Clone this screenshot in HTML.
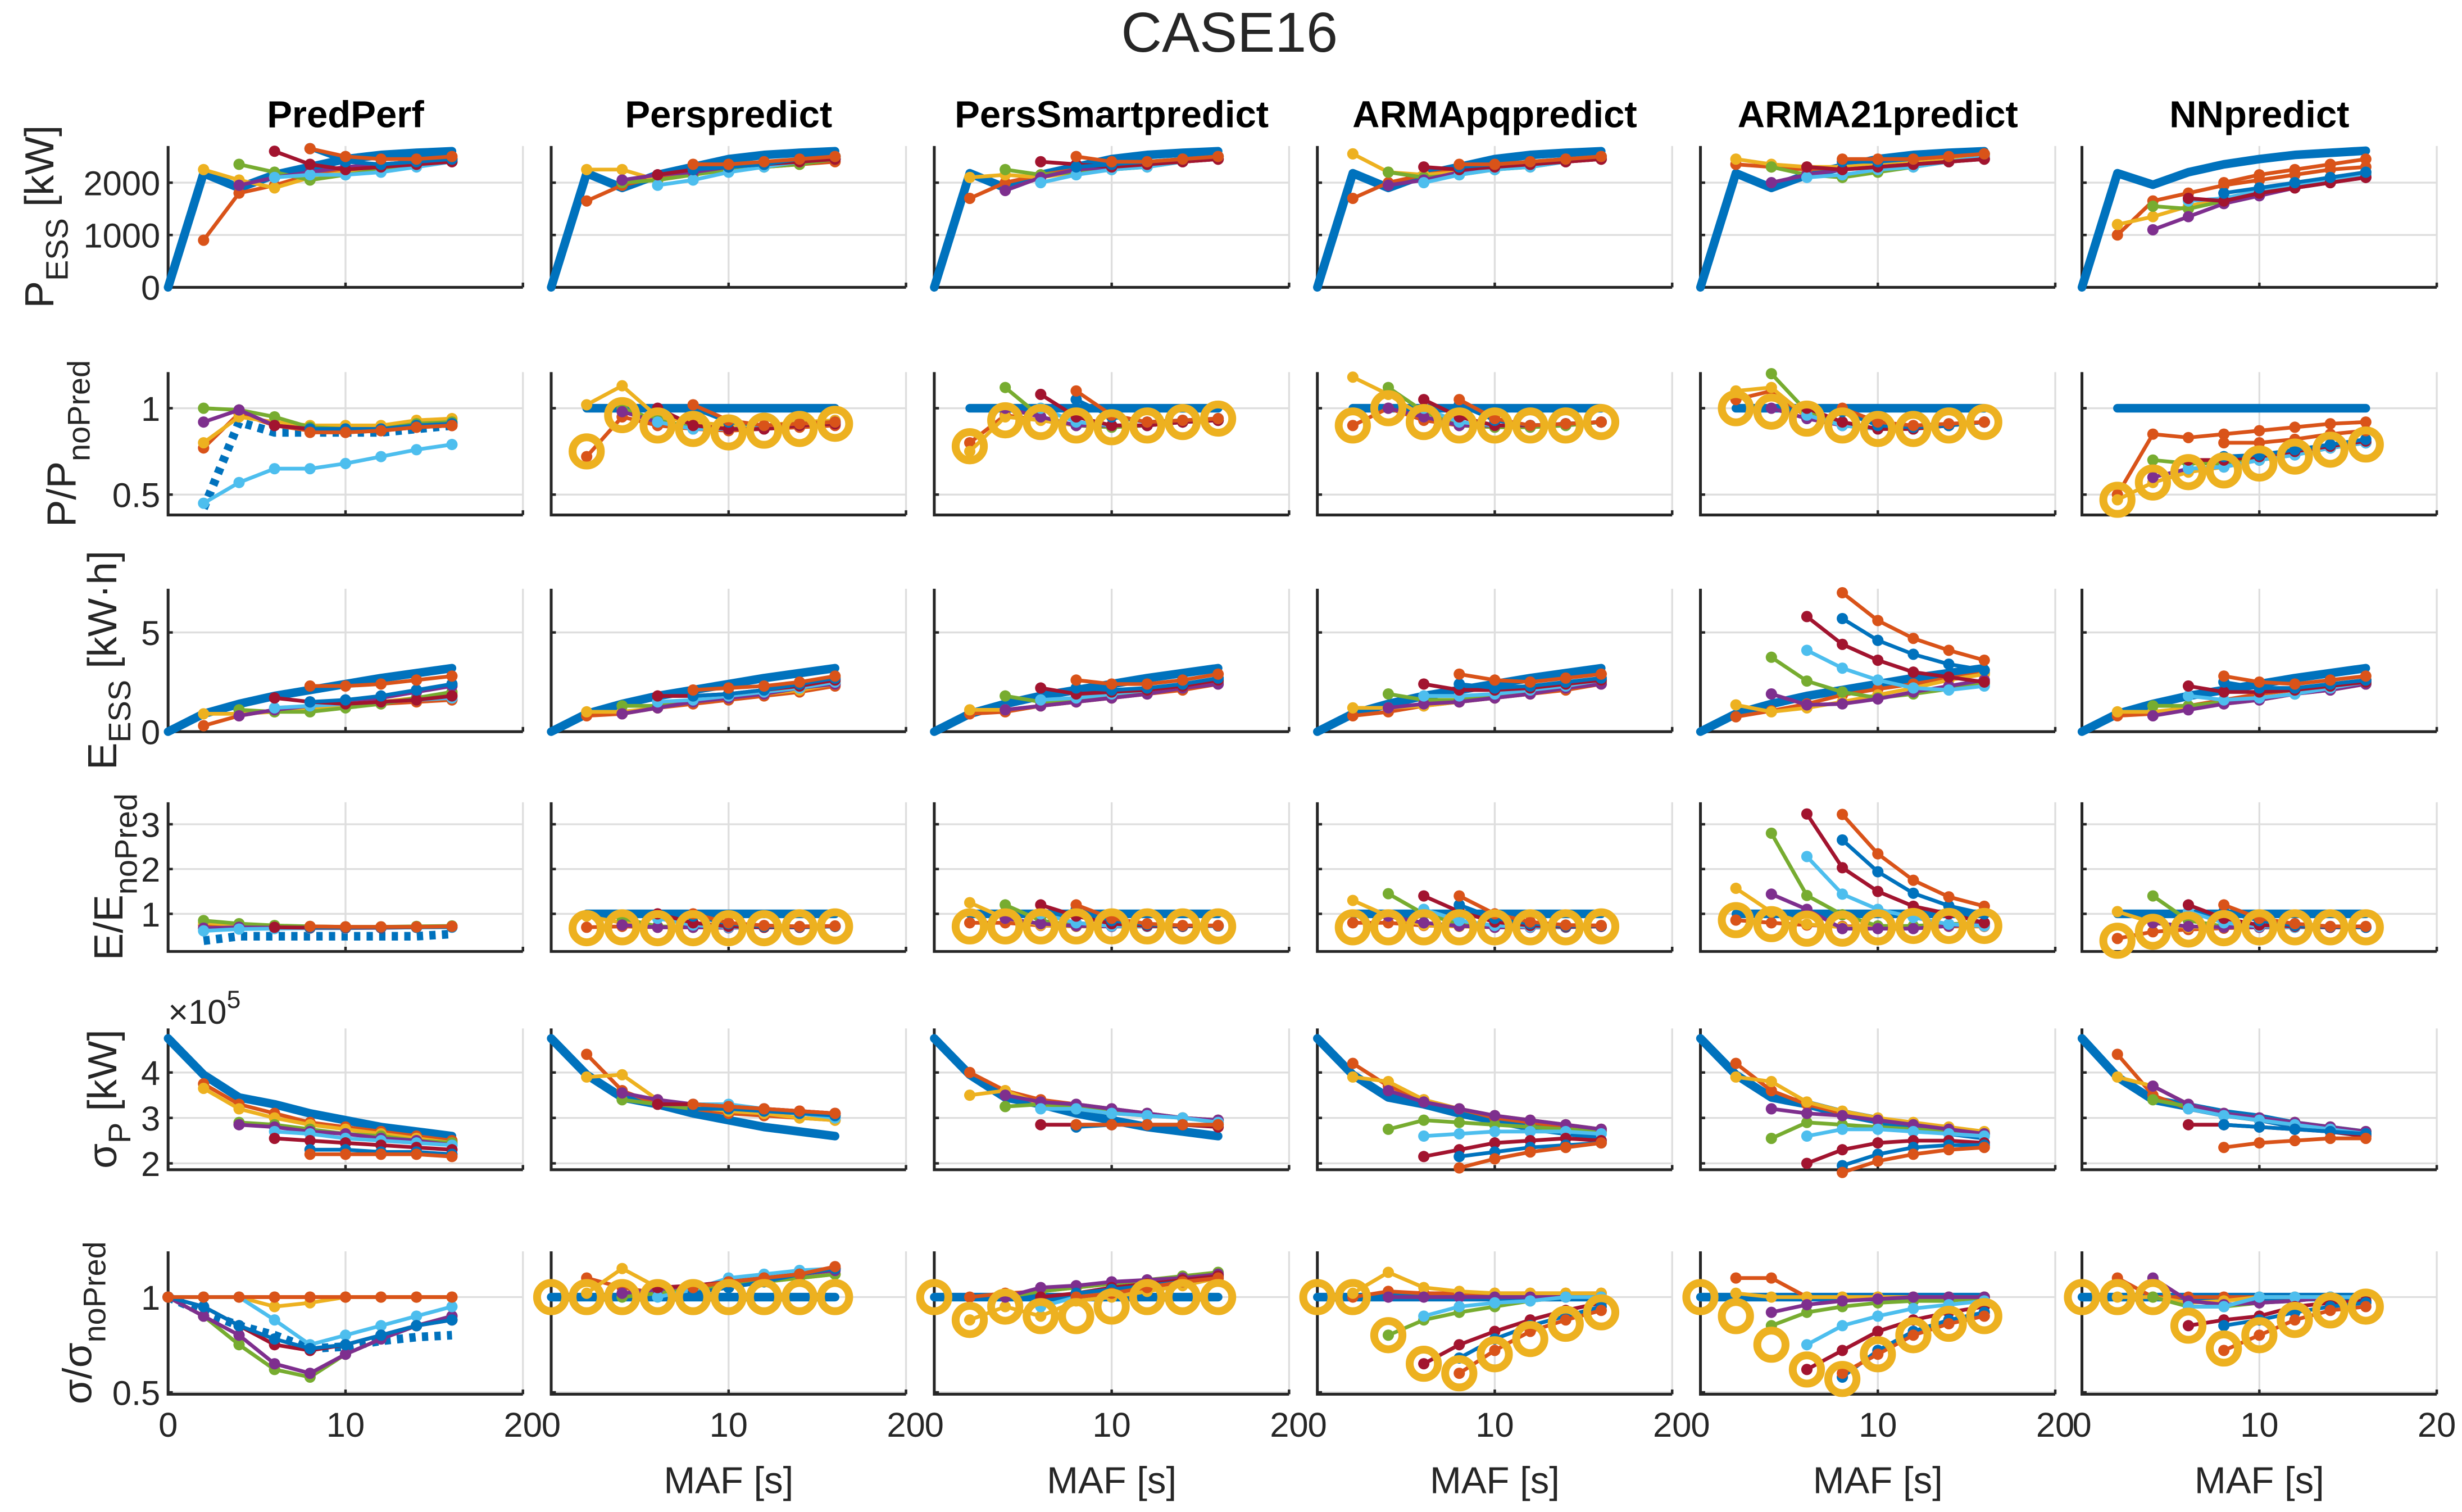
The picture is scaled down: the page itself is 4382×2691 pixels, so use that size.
<!DOCTYPE html>
<html><head><meta charset="utf-8"><title>CASE16</title>
<style>html,body{margin:0;padding:0;background:#fff}svg{display:block}</style></head>
<body>
<svg id="fig" xmlns="http://www.w3.org/2000/svg" width="4382" height="2691" viewBox="0 0 1568 963" font-family="'Liberation Sans', sans-serif">
<rect x="0" y="0" width="1568" height="963" fill="#fff"/>
<text x="783" y="33" font-size="36" text-anchor="middle" fill="#262626">CASE16</text>
</svg>
<script>
const n=null;
const xs=[0,2,4,6,8,10,12,14,16];
const colTitles=["PredPerf","Perspredict","PersSmartpredict","ARMApqpredict","ARMA21predict","NNpredict"];
const thinColors=["#D95319","#EDB120","#77AC30","#7E2F8E","#4DBEEE","#A2142F","#0072BD","#D95319"];
const yTicks1=[0,1000,2000];
const yTicks2=[0.5,1];
const yTicks3=[0,5];
const yTicks4=[1,2,3];
const yTicks5=[2,3,4];
const yTicks6=[0.5,1];
const xTicks=[0,10,20];
const refP=[0,2180,1900,2150,2300,2450,2530,2570,2600];
const refPnn=[0,2180,1960,2200,2350,2450,2530,2570,2610];
const refOne=[n,1,1,1,1,1,1,1,1];
const refOne0=[1,1,1,1,1,1,1,1,1];
const refE=[0,0.9,1.4,1.8,2.1,2.4,2.7,2.95,3.2];
const refSig=[4.75,3.95,3.45,3.3,3.1,2.95,2.8,2.7,2.6];
const refSigNN=[4.75,3.9,3.4,3.25,3.1,3.0,2.85,2.75,2.65];
const predRef2=[n,0.42,0.92,0.86,0.86,0.86,0.86,0.88,0.9];
const predRef4=[n,0.4,0.5,0.5,0.5,0.5,0.5,0.5,0.55];
const predRef6=[1,0.92,0.85,0.8,0.73,0.74,0.77,0.79,0.8];
const circ2=[null,[n,.75,.96,.9,.88,.86,.87,.88,.91],[n,.78,.93,.92,.9,.89,.9,.92,.94],[n,.9,1.0,.92,.9,.9,.9,.9,.92],[n,1.0,.98,.94,.9,.88,.88,.9,.92],[n,.47,.57,.63,.64,.68,.72,.76,.79]];
const circ4=[null,[n,.68,.7,.68,.68,.68,.68,.7,.72],[n,.72,.72,.72,.72,.72,.72,.72,.72],[n,.7,.7,.7,.7,.7,.7,.7,.72],[n,.86,.77,.67,.67,.7,.73,.73,.73],[n,.4,.6,.65,.68,.7,.7,.7,.7]];
const circ6=[null,[1,1,1,1,1,1,1,1,1],[1,.88,.95,.9,.9,.95,1,1,1],[1,1,.8,.65,.6,.7,.78,.86,.92],[1,.9,.75,.62,.57,.7,.8,.86,.9],[1,1,1,.85,.73,.8,.88,.93,.95]];

const r1=[
[[n,900,1800,1950,2150,2250,2350,2400,2450],[n,2250,2050,1900,2100,2200,2300,2400,2450],[n,n,2350,2200,2050,2150,2250,2350,2400],[n,n,1950,2100,2200,2300,2350,2400,2450],[n,n,n,2100,2150,2150,2200,2300,2400],[n,n,n,2600,2350,2250,2300,2350,2400],[n,n,n,n,2650,2400,2350,2400,2450],[n,n,n,n,2650,2500,2450,2450,2500]],
[[n,1650,1950,2100,2200,2250,2300,2350,2400],[n,2250,2250,2050,2150,2250,2350,2400,2500],[n,n,2000,2050,2150,2250,2300,2350,2450],[n,n,2050,2150,2200,2300,2350,2400,2450],[n,n,n,1950,2050,2200,2300,2400,2500],[n,n,n,2150,2250,2300,2350,2400,2450],[n,n,n,n,2250,2300,2350,2450,2500],[n,n,n,n,2350,2350,2400,2450,2500]],
[[n,1700,2000,2150,2250,2300,2350,2400,2450],[n,2100,2150,2100,2200,2300,2350,2450,2500],[n,n,2250,2150,2200,2250,2300,2400,2450],[n,n,1850,2100,2250,2300,2350,2400,2450],[n,n,n,2000,2150,2250,2300,2400,2500],[n,n,n,2400,2350,2300,2350,2400,2450],[n,n,n,n,2300,2350,2400,2450,2500],[n,n,n,n,2500,2400,2400,2450,2500]],
[[n,1700,2000,2150,2250,2300,2350,2400,2450],[n,2550,2200,2150,2200,2300,2350,2450,2500],[n,n,2200,2100,2150,2250,2300,2400,2450],[n,n,1950,2050,2200,2300,2350,2400,2450],[n,n,n,2000,2150,2250,2300,2400,2500],[n,n,n,2300,2250,2300,2350,2400,2450],[n,n,n,n,2300,2350,2400,2450,2500],[n,n,n,n,2350,2350,2400,2450,2500]],
[[n,2350,2300,2250,2300,2350,2400,2450,2500],[n,2450,2350,2300,2300,2350,2400,2450,2550],[n,n,2300,2150,2100,2200,2300,2400,2450],[n,n,2000,2150,2250,2300,2350,2400,2450],[n,n,n,2100,2150,2250,2300,2400,2500],[n,n,n,2300,2250,2300,2350,2400,2450],[n,n,n,n,2400,2400,2450,2500,2550],[n,n,n,n,2450,2450,2450,2500,2550]],
[[n,1000,1650,1800,1950,2050,2150,2250,2300],[n,1200,1350,1550,1700,1850,2000,2100,2200],[n,n,1550,1500,1650,1800,1950,2050,2150],[n,n,1100,1350,1600,1750,1900,2000,2100],[n,n,n,1650,1700,1850,1950,2050,2150],[n,n,n,1700,1650,1800,1900,2000,2100],[n,n,n,n,1800,1900,2000,2100,2200],[n,n,n,n,2000,2150,2250,2350,2450]]];
const r2=[
[[n,.77,.97,.9,.87,.86,.87,.89,.9],[n,.8,.95,.92,.9,.9,.9,.93,.94],[n,1,.99,.95,.89,.88,.88,.91,.92],[n,.92,.99,.9,.88,.88,.88,.9,.91],[n,.45,.57,.65,.65,.68,.72,.76,.79],[n,n,n,.9,.88,.87,.87,.89,.9],[n,n,n,n,.88,.88,.88,.9,.91],[n,n,n,n,.86,.86,.87,.89,.9]],
[[n,.72,.95,.9,.88,.87,.88,.89,.9],[n,1.02,1.13,.95,.92,.9,.9,.92,.93],[n,n,1,.93,.89,.88,.88,.9,.92],[n,n,.98,.92,.88,.88,.88,.9,.91],[n,n,n,.92,.88,.88,.89,.9,.92],[n,n,n,1.0,.9,.88,.88,.9,.91],[n,n,n,n,1.0,.92,.9,.91,.92],[n,n,n,n,1.02,.93,.9,.91,.92]],
[[n,.8,.96,.93,.9,.9,.9,.92,.93],[n,.75,.95,.93,.9,.9,.9,.92,.94],[n,n,1.12,.95,.9,.89,.9,.92,.93],[n,n,1.0,.95,.9,.9,.9,.92,.93],[n,n,n,1.0,.92,.9,.9,.92,.93],[n,n,n,1.08,.95,.9,.9,.92,.93],[n,n,n,n,1.05,.95,.92,.93,.94],[n,n,n,n,1.1,.96,.92,.93,.94]],
[[n,.9,1.0,.93,.9,.9,.9,.91,.92],[n,1.18,1.08,.95,.9,.9,.9,.91,.92],[n,n,1.12,.98,.9,.89,.89,.9,.92],[n,n,1.0,.95,.9,.9,.9,.91,.92],[n,n,n,1.0,.92,.9,.9,.91,.92],[n,n,n,1.05,.95,.9,.9,.91,.92],[n,n,n,n,1.02,.93,.9,.91,.92],[n,n,n,n,1.05,.94,.9,.91,.92]],
[[n,1.05,1.1,.95,.9,.88,.88,.9,.92],[n,1.1,1.12,.95,.9,.88,.88,.9,.92],[n,n,1.2,.98,.92,.88,.88,.9,.92],[n,n,1.0,.94,.9,.88,.88,.9,.92],[n,n,n,.96,.9,.88,.88,.9,.92],[n,n,n,1.0,.92,.88,.88,.9,.92],[n,n,n,n,.98,.9,.89,.9,.92],[n,n,n,n,1.0,.92,.9,.91,.92]],
[[n,.5,.85,.83,.85,.87,.89,.91,.92],[n,.47,.57,.63,.66,.7,.74,.77,.8],[n,n,.7,.68,.68,.7,.73,.77,.8],[n,n,.6,.65,.66,.7,.73,.77,.8],[n,n,n,.65,.66,.7,.73,.77,.8],[n,n,n,.7,.7,.72,.75,.78,.81],[n,n,n,n,.72,.73,.76,.79,.82],[n,n,n,n,.8,.8,.82,.85,.87]]];
const r3=[
[[n,.3,.8,1.1,1.2,1.3,1.4,1.5,1.6],[n,.9,.9,1.0,1.1,1.3,1.5,1.7,1.9],[n,n,1.1,1.0,1.0,1.2,1.4,1.7,2.0],[n,n,.8,1.1,1.3,1.5,1.7,2.0,2.3],[n,n,n,1.2,1.3,1.4,1.5,1.6,1.7],[n,n,n,1.7,1.5,1.4,1.5,1.6,1.8],[n,n,n,n,1.5,1.6,1.8,2.1,2.4],[n,n,n,n,2.3,2.3,2.4,2.6,2.8]],
[[n,.8,.9,1.2,1.4,1.6,1.8,2.0,2.3],[n,1.0,1.0,1.2,1.5,1.7,1.9,2.1,2.4],[n,n,1.3,1.3,1.5,1.7,1.9,2.2,2.5],[n,n,.9,1.2,1.5,1.7,1.9,2.2,2.4],[n,n,n,1.5,1.6,1.8,2.0,2.2,2.5],[n,n,n,1.8,1.8,1.9,2.1,2.3,2.6],[n,n,n,n,1.8,1.9,2.1,2.4,2.7],[n,n,n,n,2.1,2.2,2.3,2.5,2.8]],
[[n,.9,1.0,1.3,1.5,1.7,1.9,2.1,2.4],[n,1.1,1.1,1.3,1.5,1.7,1.9,2.2,2.5],[n,n,1.8,1.5,1.6,1.8,2.0,2.2,2.5],[n,n,1.1,1.3,1.5,1.7,1.9,2.2,2.4],[n,n,n,1.6,1.7,1.9,2.1,2.3,2.6],[n,n,n,2.2,1.9,2.0,2.1,2.3,2.6],[n,n,n,n,2.2,2.1,2.2,2.4,2.7],[n,n,n,n,2.6,2.4,2.4,2.6,2.9]],
[[n,.8,1.0,1.3,1.5,1.7,1.9,2.1,2.4],[n,1.2,1.2,1.3,1.5,1.7,1.9,2.2,2.5],[n,n,1.9,1.6,1.6,1.8,2.0,2.2,2.5],[n,n,1.2,1.4,1.5,1.7,1.9,2.2,2.4],[n,n,n,1.8,1.8,1.9,2.1,2.3,2.6],[n,n,n,2.4,2.1,2.1,2.2,2.4,2.6],[n,n,n,n,2.4,2.2,2.3,2.5,2.7],[n,n,n,n,2.9,2.6,2.5,2.7,2.9]],
[[n,.75,1.05,1.4,1.85,2.15,2.4,2.7,2.95],[n,1.35,1.0,1.2,1.5,1.85,2.2,2.6,2.9],[n,n,3.75,2.55,2.0,1.7,1.9,2.15,2.4],[n,n,1.9,1.35,1.4,1.65,2.0,2.3,2.6],[n,n,n,4.1,3.2,2.6,2.2,2.1,2.3],[n,n,n,5.8,4.4,3.6,3.0,2.75,2.5],[n,n,n,n,5.7,4.6,3.9,3.4,3.1],[n,n,n,n,7.0,5.6,4.7,4.1,3.6]],
[[n,.8,.9,1.3,1.6,1.9,2.1,2.4,2.6],[n,1.0,1.0,1.2,1.4,1.6,1.9,2.1,2.4],[n,n,1.3,1.3,1.5,1.7,1.9,2.2,2.4],[n,n,.8,1.1,1.4,1.6,1.9,2.1,2.4],[n,n,n,1.8,1.6,1.7,1.9,2.2,2.5],[n,n,n,2.3,2.0,2.0,2.1,2.3,2.5],[n,n,n,n,2.5,2.2,2.2,2.4,2.6],[n,n,n,n,2.8,2.5,2.4,2.6,2.8]]];
const r4=[
[[n,.75,.72,.7,.7,.7,.7,.7,.72],[n,.8,.75,.72,.71,.7,.7,.71,.72],[n,.85,.78,.74,.72,.71,.71,.72,.73],[n,.68,.7,.69,.69,.69,.7,.7,.71],[n,.62,.66,.67,.68,.68,.69,.7,.7],[n,n,n,.7,.69,.69,.69,.7,.71],[n,n,n,n,.7,.7,.7,.7,.71],[n,n,n,n,.72,.71,.71,.71,.72]],
[[n,.7,.72,.7,.7,.69,.7,.7,.72],[n,.95,.8,.72,.7,.7,.7,.7,.72],[n,n,.9,.72,.7,.7,.7,.7,.72],[n,n,.75,.7,.7,.69,.7,.7,.72],[n,n,n,.9,.75,.7,.7,.7,.72],[n,n,n,1.0,.8,.72,.7,.7,.72],[n,n,n,n,.95,.78,.72,.71,.72],[n,n,n,n,1.0,.8,.74,.72,.73]],
[[n,.8,.8,.74,.72,.72,.72,.72,.73],[n,1.25,.9,.75,.72,.72,.72,.72,.73],[n,n,1.2,.85,.74,.72,.72,.72,.73],[n,n,.9,.78,.73,.72,.72,.72,.73],[n,n,n,1.0,.8,.73,.72,.72,.73],[n,n,n,1.2,.95,.78,.73,.72,.73],[n,n,n,n,1.1,.85,.76,.73,.73],[n,n,n,n,1.2,.9,.78,.74,.74]],
[[n,.8,.8,.74,.72,.7,.7,.7,.72],[n,1.3,.95,.75,.72,.7,.7,.7,.72],[n,n,1.45,1.0,.78,.72,.7,.7,.72],[n,n,.95,.8,.73,.7,.7,.7,.72],[n,n,n,1.1,.85,.74,.71,.7,.72],[n,n,n,1.4,1.05,.82,.74,.71,.72],[n,n,n,n,1.2,.9,.78,.73,.73],[n,n,n,n,1.4,1.0,.82,.75,.74]],
[[n,.86,.8,.75,.72,.72,.72,.72,.72],[n,1.57,1.04,.77,.7,.7,.73,.73,.73],[n,n,2.8,1.41,.98,.73,.73,.77,.8],[n,n,1.44,1.1,.67,.67,.67,.73,.77],[n,n,n,2.28,1.44,1.1,.92,.77,.73],[n,n,n,3.23,2.03,1.5,1.17,1.0,.8],[n,n,n,n,2.65,1.94,1.46,1.18,1.0],[n,n,n,n,3.22,2.34,1.75,1.38,1.17]],
[[n,.45,.6,.65,.68,.7,.7,.7,.7],[n,1.05,.8,.7,.7,.7,.7,.7,.7],[n,n,1.4,.85,.72,.7,.7,.7,.7],[n,n,.8,.72,.7,.7,.7,.7,.7],[n,n,n,1.05,.8,.72,.7,.7,.7],[n,n,n,1.2,.9,.75,.72,.7,.7],[n,n,n,n,1.05,.85,.74,.71,.7],[n,n,n,n,1.2,.9,.78,.72,.72]]];
const r5=[
[[n,3.75,3.3,3.1,2.9,2.8,2.7,2.6,2.5],[n,3.65,3.2,3.0,2.85,2.75,2.65,2.55,2.45],[n,n,2.9,2.85,2.75,2.65,2.6,2.5,2.45],[n,n,2.85,2.8,2.7,2.65,2.55,2.5,2.4],[n,n,n,2.7,2.65,2.55,2.5,2.45,2.4],[n,n,n,2.55,2.5,2.45,2.4,2.35,2.3],[n,n,n,n,2.3,2.3,2.25,2.25,2.2],[n,n,n,n,2.2,2.2,2.2,2.2,2.15]],
[[n,4.4,3.6,3.3,3.2,3.1,3.05,3.0,2.95],[n,3.9,3.95,3.4,3.25,3.15,3.1,3.0,2.95],[n,n,3.4,3.3,3.2,3.2,3.15,3.1,3.05],[n,n,3.55,3.4,3.3,3.25,3.2,3.15,3.1],[n,n,n,3.3,3.3,3.3,3.2,3.1,3.0],[n,n,n,3.3,3.3,3.25,3.2,3.15,3.1],[n,n,n,n,3.2,3.2,3.15,3.1,3.05],[n,n,n,n,3.3,3.25,3.2,3.15,3.1]],
[[n,4.0,3.6,3.4,3.3,3.2,3.1,3.0,2.95],[n,3.5,3.6,3.3,3.2,3.1,3.05,3.0,2.9],[n,n,3.25,3.3,3.25,3.15,3.1,3.0,2.95],[n,n,3.5,3.35,3.3,3.2,3.1,3.0,2.95],[n,n,n,3.2,3.2,3.1,3.05,3.0,2.9],[n,n,n,2.85,2.85,2.85,2.85,2.85,2.8],[n,n,n,n,2.8,2.85,2.85,2.85,2.85],[n,n,n,n,2.85,2.85,2.85,2.85,2.85]],
[[n,4.2,3.7,3.4,3.2,3.0,2.9,2.8,2.75],[n,3.9,3.8,3.4,3.2,3.05,2.95,2.85,2.75],[n,n,2.75,2.95,2.9,2.85,2.8,2.75,2.7],[n,n,3.6,3.35,3.2,3.05,2.95,2.85,2.75],[n,n,n,2.6,2.65,2.7,2.7,2.7,2.65],[n,n,n,2.15,2.3,2.45,2.5,2.55,2.5],[n,n,n,n,2.15,2.25,2.35,2.4,2.45],[n,n,n,n,1.9,2.1,2.25,2.35,2.45]],
[[n,4.2,3.6,3.3,3.1,2.95,2.85,2.75,2.65],[n,3.9,3.8,3.35,3.15,3.0,2.9,2.8,2.7],[n,n,2.55,2.9,2.85,2.8,2.75,2.7,2.65],[n,n,3.2,3.1,3.05,2.95,2.85,2.75,2.65],[n,n,n,2.6,2.75,2.75,2.7,2.65,2.6],[n,n,n,2.0,2.3,2.45,2.5,2.5,2.45],[n,n,n,n,1.95,2.2,2.35,2.4,2.4],[n,n,n,n,1.8,2.05,2.2,2.3,2.35]],
[[n,4.4,3.5,3.2,3.05,2.95,2.85,2.75,2.65],[n,3.9,3.7,3.3,3.1,3.0,2.9,2.8,2.7],[n,n,3.4,3.25,3.1,3.0,2.9,2.8,2.7],[n,n,3.7,3.3,3.1,3.0,2.9,2.8,2.7],[n,n,n,3.2,3.05,2.95,2.85,2.75,2.65],[n,n,n,2.85,2.85,2.8,2.75,2.7,2.6],[n,n,n,n,2.85,2.8,2.75,2.7,2.65],[n,n,n,n,2.35,2.45,2.5,2.55,2.55]]];
const r6=[
[[1,1,1,1,1,1,1,1,1],[1,1,1,.95,.97,1.0,1.0,1.0,1.0],[1,.9,.75,.62,.58,.7,.78,.85,.9],[1,.9,.8,.65,.6,.7,.78,.85,.9],[1,1,1,.88,.75,.8,.85,.9,.95],[1,.95,.85,.75,.72,.75,.8,.85,.88],[1,.95,.85,.78,.73,.75,.8,.85,.88],[1,1,1,1,1,1,1,1,1]],
[[n,1.1,1.05,1.02,1.05,1.08,1.1,1.12,1.15],[n,1.02,1.15,1.05,1.03,1.05,1.08,1.1,1.12],[n,n,1.0,1.02,1.04,1.06,1.08,1.1,1.12],[n,n,1.02,1.04,1.06,1.08,1.1,1.12,1.14],[n,n,n,1.0,1.04,1.1,1.12,1.14,1.15],[n,n,n,1.05,1.06,1.08,1.1,1.12,1.15],[n,n,n,n,1.02,1.05,1.08,1.12,1.15],[n,n,n,n,1.05,1.08,1.1,1.12,1.16]],
[[n,1.0,1.02,1.03,1.05,1.07,1.09,1.1,1.12],[n,.88,.95,.9,.98,1.0,1.03,1.06,1.1],[n,n,1.0,1.03,1.05,1.07,1.09,1.11,1.13],[n,n,1.0,1.05,1.06,1.08,1.09,1.1,1.12],[n,n,n,.95,1.0,1.04,1.07,1.09,1.1],[n,n,n,1.0,1.02,1.05,1.07,1.09,1.11],[n,n,n,n,1.02,1.04,1.06,1.08,1.1],[n,n,n,n,1.0,1.02,1.05,1.08,1.1]],
[[n,1.0,1.03,1.02,1.02,1.02,1.02,1.02,1.02],[n,1.02,1.13,1.05,1.03,1.02,1.02,1.02,1.02],[n,n,.8,.88,.92,.95,.98,1.0,1.0],[n,n,1.0,1.0,1.0,1.0,1.0,1.0,1.0],[n,n,n,.9,.95,.97,.98,1.0,1.0],[n,n,n,.65,.75,.82,.88,.93,.97],[n,n,n,n,.68,.78,.85,.9,.95],[n,n,n,n,.6,.72,.82,.88,.93]],
[[n,1.1,1.1,1.0,1.0,1.0,1.0,1.0,1.0],[n,1.02,1.0,1.0,1.0,1.0,1.0,1.0,1.0],[n,n,.85,.92,.95,.97,.98,.98,1.0],[n,n,.92,.96,.98,.99,1.0,1.0,1.0],[n,n,n,.75,.85,.9,.94,.96,.98],[n,n,n,.62,.72,.82,.88,.92,.95],[n,n,n,n,.58,.72,.82,.88,.92],[n,n,n,n,.6,.7,.8,.86,.9]],
[[n,1.1,1.0,1.0,1.0,1.0,1.0,1.0,1.0],[n,1.0,1.0,.97,.98,1.0,1.0,1.0,1.0],[n,n,1.0,.95,.95,.97,.98,1.0,1.0],[n,n,1.1,.98,.96,.97,.98,1.0,1.0],[n,n,n,.95,.95,1.0,1.0,1.0,1.0],[n,n,n,.85,.88,.9,.95,.97,.98],[n,n,n,n,.85,.88,.92,.95,.97],[n,n,n,n,.72,.8,.88,.93,.95]]];

const NS="http://www.w3.org/2000/svg";
const svg=document.getElementById('fig');
const colLeft=[107,351,595,839,1083,1326];
const axW=226;
const rowTop=[93,237,375,511,655,797];
const rowBot=[183,328,466,606,745,888];
const yDom=[[0,2700],[0.382,1.209],[0,7.2],[0.16,3.49],[1.86,4.97],[0.49,1.24]];
const yTickSets=[yTicks1,yTicks2,yTicks3,yTicks4,yTicks5,yTicks6];
const rowData=[r1,r2,r3,r4,r5,r6];
const rowNames=["p-ess","p-ratio","e-ess","e-ratio","sigma-p","sigma-ratio"];
function el(tag,attrs,parent){const e=document.createElementNS(NS,tag);for(const k in attrs)e.setAttribute(k,attrs[k]);(parent||svg).appendChild(e);return e;}
function xScale(c,v){return colLeft[c]+v/20*axW;}
function yScale(r,v){const d=yDom[r];return rowBot[r]-(v-d[0])/(d[1]-d[0])*(rowBot[r]-rowTop[r]);}
function pathFor(c,r,vals){let d="",pen=false;vals.forEach((v,i)=>{if(v===null){pen=false;return;}d+=(pen?"L":"M")+xScale(c,xs[i]).toFixed(2)+","+yScale(r,v).toFixed(2);pen=true;});return d;}
function fmt(v){return String(v);}

for(let r=0;r<6;r++){
 for(let c=0;c<6;c++){
  const g=el('g',{});
  
  
  xTicks.forEach(t=>{const l=el('line',{x1:xScale(c,t),x2:xScale(c,t),y1:rowTop[r],y2:rowBot[r],stroke:'#dedede','stroke-width':1.2},g);
   });
  yTickSets[r].forEach(t=>{const y=yScale(r,t);const l=el('line',{x1:colLeft[c],x2:colLeft[c]+axW,y1:y,y2:y,stroke:'#dedede','stroke-width':1.2},g);
   });
  const ax=el('path',{d:`M${colLeft[c]},${rowTop[r]}L${colLeft[c]},${rowBot[r]}L${colLeft[c]+axW},${rowBot[r]}`,fill:'none',stroke:'#262626','stroke-width':1.8},g);
  
  xTicks.forEach(t=>{const x=xScale(c,t);const l=el('line',{x1:x,x2:x,y1:rowBot[r],y2:rowBot[r]-3,stroke:'#262626','stroke-width':1.6},g);
   });
  yTickSets[r].forEach(t=>{const y=yScale(r,t);const l=el('line',{x1:colLeft[c],x2:colLeft[c]+3,y1:y,y2:y,stroke:'#262626','stroke-width':1.6},g);
   
   if(c===0){const tx=el('text',{x:colLeft[c]-5,y:y+8,'font-size':22,'text-anchor':'end',fill:'#262626'},g);tx.textContent=fmt(t);
    }});
  if(r===5){xTicks.forEach(t=>{const tx=el('text',{x:xScale(c,t),y:rowBot[r]+27,'font-size':22,'text-anchor':'middle',fill:'#262626'},g);tx.textContent=fmt(t);
   });}
  let ref=null, dotted=null;
  if(r===0) ref=(c===5?refPnn:refP);
  if(r===1||r===3){ if(c===0) dotted=(r===1?predRef2:predRef4); else ref=refOne; }
  if(r===2) ref=refE;
  if(r===4) ref=(c===5?refSigNN:refSig);
  if(r===5){ if(c===0) dotted=predRef6; else ref=refOne0; }
  if(ref){const p=el('path',{d:pathFor(c,r,ref),fill:'none',stroke:'#0072BD','stroke-width':5.5,'stroke-linejoin':'round','stroke-linecap':'round'},g);
   }
  if(dotted){const p=el('path',{d:pathFor(c,r,dotted),fill:'none',stroke:'#0072BD','stroke-width':5.5,'stroke-dasharray':'4 4'},g);
   }
  rowData[r][c].forEach((s,k)=>{
   const p=el('path',{d:pathFor(c,r,s),fill:'none',stroke:thinColors[k],'stroke-width':2.4},g);
   
   s.forEach((v,i)=>{if(v===null)return;const m=el('circle',{cx:xScale(c,xs[i]),cy:yScale(r,v),r:3.6,fill:thinColors[k]},g);
    });
  });
  const circ=(r===1?circ2:r===3?circ4:r===5?circ6:null);
  if(circ&&circ[c]){circ[c].forEach((v,i)=>{if(v===null)return;const m=el('circle',{cx:xScale(c,xs[i]),cy:yScale(r,v),r:9,fill:'none',stroke:'#EDB120','stroke-width':5},g);
   });}
  if(r===0){const t=el('text',{x:colLeft[c]+axW/2,y:81,'font-size':24,'font-weight':'bold','text-anchor':'middle',fill:'#000'});t.textContent=colTitles[c];
   }
  if(r===5&&c>0){const t=el('text',{x:colLeft[c]+axW/2,y:951,'font-size':24,'text-anchor':'middle',fill:'#262626'});t.textContent='MAF [s]';
   }
 }
}
const ylabs=[["P","ESS"," [kW]"],["P/P","noPred",""],["E","ESS"," [kW\u00B7h]"],["E/E","noPred",""],["\u03C3","P"," [kW]"],["\u03C3/\u03C3","noPred",""]];
const ylx=[34,48,74,78,74,58];
ylabs.forEach((lab,r)=>{
 const cy=(rowTop[r]+rowBot[r])/2;
 const t=el('text',{transform:`translate(${ylx[r]},${cy}) rotate(-90)`,'font-size':26,'text-anchor':'middle',fill:'#262626'});
 
 
 const a=el('tspan',{},t);a.textContent=lab[0];
 const b=el('tspan',{dy:9,'font-size':20},t);b.textContent=lab[1];
 if(lab[2]){const d=el('tspan',{dy:-9},t);d.textContent=lab[2];}
});
const ex=el('text',{x:107,y:652,'font-size':22,fill:'#262626'});


const e1=el('tspan',{},ex);e1.textContent='\u00D710';
const e2=el('tspan',{dy:-10,'font-size':16},ex);e2.textContent='5';
</script>
</body></html>
